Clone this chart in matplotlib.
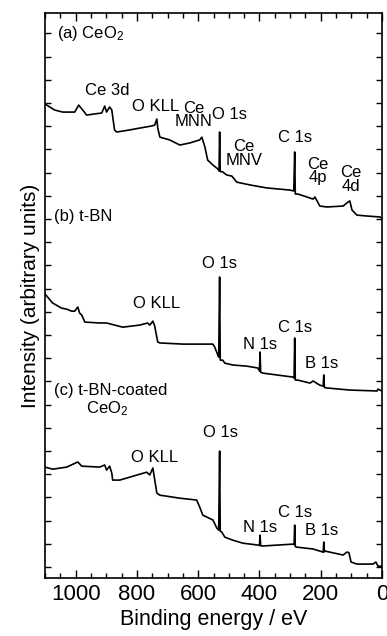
import numpy as np
import matplotlib
matplotlib.use("Agg")
import matplotlib.pyplot as plt
from matplotlib.ticker import MultipleLocator

plt.rcParams['font.family'] = ['Liberation Sans', 'DejaVu Sans']
plt.rcParams['mathtext.fontset'] = 'custom'
plt.rcParams['mathtext.rm'] = 'Liberation Sans'
plt.rcParams['mathtext.it'] = 'Liberation Sans'

# binding energy (eV) / intensity (arb. units)
energy_a = [1100, 1069, 1042, 1003, 990, 977, 964, 938, 915, 905, 899, 889, 882, 873, 866,
            824, 791, 752, 742, 735, 732, 725, 693, 660, 627, 595, 588, 578, 569, 552, 536,
            532, 530, 528, 520, 507, 490, 474, 431, 376, 301, 288, 285, 283, 275, 245, 225,
            219, 212, 203, 180, 127, 111, 105, 98, 82, 49, 7, 0]
inten_a = [19.96, 19.70, 19.61, 19.61, 19.91, 19.70, 19.48, 19.53, 19.57, 19.87, 19.61, 19.83,
           19.70, 18.84, 18.75, 18.84, 18.92, 19.01, 19.05, 19.31, 18.92, 18.53, 18.41, 18.19,
           18.28, 18.41, 18.53, 18.10, 17.54, 17.33, 17.16, 17.07, 18.75, 17.05, 17.03, 16.90,
           16.85, 16.59, 16.47, 16.34, 16.25, 16.21, 17.89, 16.08, 16.08, 15.95, 15.86, 15.95,
           15.78, 15.56, 15.52, 15.56, 15.73, 15.78, 15.39, 15.17, 15.13, 15.09, 15.04]

energy_b = [1100, 1075, 1046, 1030, 1013, 1003, 993, 987, 980, 970, 922, 899, 846, 791, 765,
            758, 748, 742, 732, 725, 650, 552, 546, 536, 533, 530, 528, 520, 513, 487, 441,
            405, 400, 398, 396, 389, 343, 291, 287, 285, 283, 275, 235, 225, 203, 192, 190,
            188, 180, 105, 16, 13, 0]
inten_b = [11.77, 11.38, 11.16, 11.12, 11.03, 11.03, 11.21, 10.95, 10.86, 10.56, 10.52, 10.52,
           10.34, 10.43, 10.52, 10.43, 10.60, 10.39, 9.70, 9.66, 9.61, 9.61, 9.48, 9.14, 9.05,
           12.50, 8.92, 8.92, 8.79, 8.71, 8.66, 8.58, 8.45, 9.27, 8.40, 8.36, 8.28, 8.19, 8.15,
           9.87, 8.06, 8.06, 7.93, 8.02, 7.84, 7.80, 8.28, 7.74, 7.72, 7.63, 7.59, 7.67, 7.59]

energy_c = [1100, 1075, 1029, 993, 980, 922, 905, 899, 889, 882, 879, 856, 768, 758, 748, 735,
            725, 660, 605, 595, 585, 552, 539, 533, 530, 528, 523, 513, 487, 454, 405, 400,
            398, 396, 389, 291, 287, 285, 283, 278, 225, 193, 192, 190, 188, 186, 127, 114,
            108, 101, 82, 29, 20, 13, 0]
inten_c = [4.31, 4.22, 4.31, 4.53, 4.35, 4.31, 4.40, 4.18, 4.35, 4.05, 3.75, 3.75, 4.09, 3.97,
           4.27, 3.19, 3.10, 2.97, 2.89, 2.59, 2.24, 2.03, 1.68, 1.59, 5.00, 1.55, 1.51, 1.29,
           1.16, 1.03, 0.95, 0.93, 1.38, 0.92, 0.91, 0.99, 0.97, 1.81, 0.88, 0.86, 0.78, 0.65,
           0.64, 1.08, 0.66, 0.69, 0.52, 0.65, 0.62, 0.22, 0.13, 0.13, 0.22, 0.04, 0.04]

# (text, energy, intensity) for peak labels
labels_a = [("Ce 3d", 898, 20.56), ("O KLL", 738, 19.83), ("Ce\nMNN", 614, 19.48),
            ("O 1s", 497, 19.50), ("Ce\nMNV", 451, 17.84), ("C 1s", 284, 18.53),
            ("Ce\n4p", 209, 17.07), ("Ce\n4d", 101, 16.70)]
labels_b = [("O 1s", 529, 13.10), ("O KLL", 735, 11.38), ("N 1s", 399, 9.61),
            ("C 1s", 284, 10.34), ("B 1s", 196, 8.79)]
labels_c = [("O 1s", 526, 5.78), ("O KLL", 742, 4.74), ("N 1s", 399, 1.72),
            ("C 1s", 284, 2.37), ("B 1s", 196, 1.59)]

fig = plt.figure(figsize=(3.87, 6.36), dpi=100)
ax = fig.add_axes([45/387, 58/636, 337/387, 565/636])

for e, i in [(energy_a, inten_a), (energy_b, inten_b), (energy_c, inten_c)]:
    ax.plot(e, i, color='black', lw=1.2)

fs = 12
for lab in (labels_a, labels_b, labels_c):
    for t, e, i in lab:
        ax.text(e, i, t, ha='center', va='center', fontsize=fs, linespacing=0.9)

ax.text(1062, 23.0, "(a) CeO$_2$", ha='left', va='center', fontsize=fs)
ax.text(1069, 15.09, "(b) t-BN", ha='left', va='center', fontsize=fs)
ax.text(1069, 7.63, "(c) t-BN-coated", ha='left', va='center', fontsize=fs)
ax.text(967, 6.85, "CeO$_2$", ha='left', va='center', fontsize=fs)

ax.set_xlim(1100, 0)
ax.set_ylim(-0.47, 23.88)
ax.xaxis.set_major_locator(MultipleLocator(200))
ax.xaxis.set_minor_locator(MultipleLocator(50))
ax.set_yticks(np.arange(0, 24))
ax.set_yticklabels([])
ax.tick_params(axis='both', which='both', direction='in', top=True, right=True, width=1.0)
ax.tick_params(axis='x', which='major', length=6, labelsize=16, pad=4)
ax.tick_params(axis='x', which='minor', length=3.5)
ax.tick_params(axis='y', which='major', length=4.5)
for s in ax.spines.values():
    s.set_linewidth(1.2)

ax.set_xlabel("Binding energy / eV", fontsize=15.5, labelpad=3)
ax.set_ylabel("Intensity (arbitrary units)", fontsize=15, labelpad=0)

fig.savefig("out.png", dpi=100)
